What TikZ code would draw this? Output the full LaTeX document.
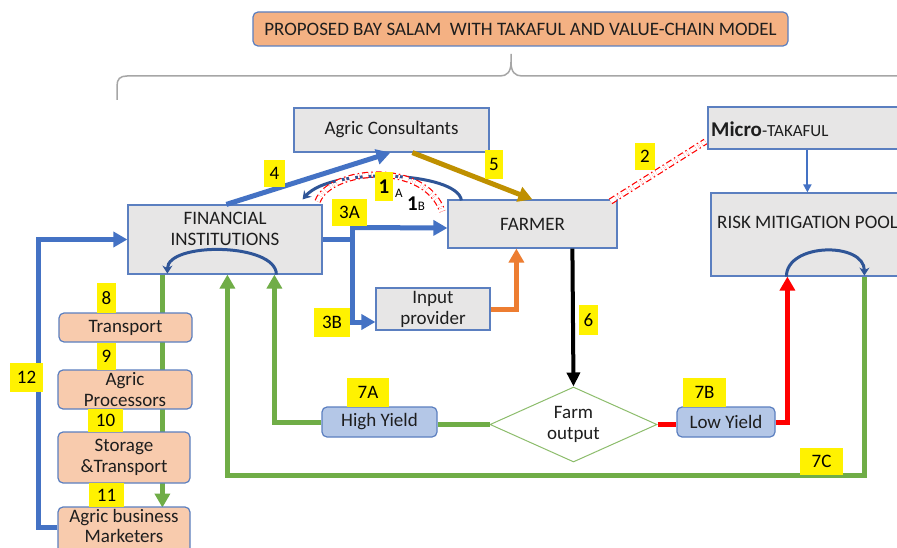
\documentclass[tikz,border=0pt]{standalone}
\usepackage{fontspec}
\setmainfont{Carlito}
\usetikzlibrary{arrows.meta,shapes.geometric,calc}
\definecolor{boxgray}{HTML}{E7E6E6}
\definecolor{boxline}{HTML}{5B7FC0}
\definecolor{peach}{HTML}{F8CBAD}
\definecolor{titlefill}{HTML}{F4B183}
\definecolor{cblue}{HTML}{4472C4}
\definecolor{dblue}{HTML}{2F5597}
\definecolor{cgreen}{HTML}{70AD47}
\definecolor{cgold}{HTML}{BF9000}
\definecolor{corange}{HTML}{ED7D31}
\definecolor{lblue}{HTML}{B4C7E7}
\definecolor{txt}{HTML}{1E1E1E}
\definecolor{bracec}{HTML}{A6A6A6}
\tikzset{
  fnt/.style={font=\fontsize{19}{21}\selectfont, text=txt},
  graybox/.style={fnt, draw=boxline, line width=1.2pt, fill=boxgray, inner sep=0pt, align=center},
  peachbox/.style={fnt, draw=boxline, line width=1.2pt, fill=peach, rounded corners=5pt, inner sep=0pt, align=center},
  yieldbox/.style={fnt, draw=boxline, line width=1.2pt, fill=lblue, rounded corners=5pt, inner sep=0pt, align=center},
  ylab/.style={fnt, fill=yellow, inner sep=0pt, text=black},
  tri/.style={-{Triangle[width=15pt,length=14pt]}},
  bl/.style={draw=cblue, line width=5pt},
  gr/.style={draw=cgreen, line width=5pt},
  rd/.style={draw=red, line width=5pt},
  reddd/.style={draw=red, line width=1.2pt, dash pattern=on 6pt off 3pt on 1.5pt off 3pt, double=white, double distance=4pt},
}
\begin{document}
\begin{tikzpicture}[x=1pt,y=-1pt]
\path[use as bounding box, clip] (0,0) rectangle (897,548);
\fill[white] (0,0) rectangle (897,548);

% title and brace
\node[fnt, draw=boxline, line width=1.2pt, fill=titlefill, rounded corners=5pt, minimum width=535pt, minimum height=34pt, inner sep=0pt] (title) at (520.5,29) {PROPOSED BAY SALAM\ \ WITH TAKAFUL AND VALUE-CHAIN MODEL};
\draw[bracec, line width=1.5pt] (117,100) -- (117,86) .. controls (117,79) and (120,76) .. (127,76) -- (500,76) .. controls (507,76) and (511,72) .. (511,62) -- (511,54);
\draw[bracec, line width=1.5pt] (511,62) .. controls (511,72) and (515,76) .. (522,76) -- (900,76);

% boxes
\node[graybox, minimum width=195pt, minimum height=44pt] (ac) at (391.5,130) {Agric Consultants};
\node[graybox, minimum width=194pt, minimum height=69pt] (fi) at (225,239.5) {};
\node[fnt, align=center] at (225,229) {FINANCIAL\\INSTITUTIONS};
\node[graybox, minimum width=169pt, minimum height=48pt] (farmer) at (532.5,224) {FARMER};
\node[graybox, minimum width=200pt, minimum height=42pt] (mt) at (808,128) {};
\node[fnt, anchor=west, inner sep=0pt] at (711,129) {{\fontsize{21}{22}\selectfont\bfseries Micro}\fontsize{17}{20}\selectfont-TAKAFUL};
\node[graybox, minimum width=200pt, minimum height=83pt] (rmp) at (811,234.5) {};
\node[fnt, anchor=west, inner sep=0pt] at (717,222) {RISK MITIGATION POOL};
\node[graybox, minimum width=114pt, minimum height=42pt] (ip) at (433,309) {Input\\provider};
\node[fnt, draw=cgreen!80, line width=1pt, shape=diamond, aspect=2.23, minimum width=167pt, minimum height=75pt, inner sep=0pt, align=center] (fo) at (573.5,424.5) {Farm\\output};
\node[yieldbox, minimum width=115pt, minimum height=30pt] (hy) at (379.5,422) {High Yield};
\node[yieldbox, minimum width=98pt, minimum height=30pt] (ly) at (726,422) {Low Yield};

% green line through value chain (behind boxes)
\draw[gr, tri] ($(fi.south west)+(35,0)$) -- ($(fi.south west)+(35,233)$);

\node[peachbox, minimum width=133pt, minimum height=29pt] (tr) at (125.5,327.5) {Transport};
\node[peachbox, minimum width=134pt, minimum height=39pt] (pr) at (125,389.5) {Agric\\Processors};
\node[peachbox, minimum width=132pt, minimum height=51pt] (st) at (124,457.5) {Storage\\\&Transport};
\node[peachbox, minimum width=132pt, minimum height=47pt] (mk) at (124,530.5) {};
\node[fnt, align=center, font=\fontsize{19}{20}\selectfont] at (124,525.5) {Agric business\\Marketers};

% connectors
\draw[bl, tri] ($(fi.north west)+(99,0)$) -- ($(ac.south west)+(97,0)$);
\draw[draw=cgold, line width=5pt, tri] ($(ac.south west)+(119,0)$) -- ($(farmer.north west)+(85,0)$);
\draw[draw=dblue, line width=3pt, -{Stealth[width=10pt,length=8pt]}] ($(farmer.north west)+(14,1)$) .. controls (458,172) and (332,166) .. ($(fi.north east)+(-20,-5)$);
\draw[reddd] ($(fi.north east)+(-5,-3)$) .. controls (330,168) and (425,160) .. ($(farmer.north west)+(-5,12)$);
\draw[reddd] ($(farmer.north east)+(-7,2)$) -- ($(mt.south west)+(-2,-8)$);

\draw[bl] (fi.east) -- ++(30,0);
\draw[bl, tri] ($(fi.east)+(30,-12)$) -- ($(farmer.west)+(0,4)$);
\draw[bl, tri] ($(fi.east)+(30,-14)$) |- ($(ip.west)+(0,13)$);
\draw[draw=corange, line width=5pt, tri] (ip.east) -| ($(farmer.south west)+(69,0)$);
\draw[draw=black, line width=4pt, -{Triangle[width=13pt,length=14pt]}] ($(farmer.south west)+(125,0)$) -- (fo.north);
\draw[draw=cblue, line width=2pt, -{Triangle[width=8pt,length=8pt]}] ($(mt.south west)+(100,0)$) -- ($(rmp.north west)+(97,0)$);

\draw[gr] (fo.west) -- ($(hy.east)+(0,2.5)$);
\draw[gr, tri] (hy.west) -| ($(fi.south west)+(147,0)$);
\draw[rd] (fo.east) -- ($(ly.west)+(0,2.5)$);
\draw[rd, tri] (ly.east) -| ($(rmp.south west)+(77,0)$);
\draw[gr, tri] ($(rmp.south west)+(154,0)$) -- ++(0,199) -| ($(fi.south west)+(100,0)$);
\draw[bl, tri] ($(mk.north west)+(0,21)$) -- ++(-19,0) |- (fi.west);

\draw[draw=dblue, line width=3pt, -{Stealth[width=10pt,length=8pt]}] ($(rmp.south west)+(76,0)$) .. controls +(0,-34) and +(0,-34) .. ($(rmp.south west)+(154,-1)$);
\draw[draw=dblue, line width=3pt, -{Stealth[width=10pt,length=8pt]}] ($(fi.south west)+(149,0)$) .. controls +(0,-32) and +(0,-32) .. ($(fi.south west)+(40,-1)$);

% labels
\node[ylab, minimum width=21pt, minimum height=27pt] (l4) at (274.5,173.5) {4};
\node[ylab, minimum width=18pt, minimum height=29pt] (l5) at (494,164.5) {5};
\node[ylab, minimum width=18pt, minimum height=29pt, font=\fontsize{21}{22}\selectfont\bfseries] (l1a) at (384,186.5) {1};
\node[fnt, inner sep=0pt, font=\fontsize{13}{14}\selectfont, text=black] at (399,193) {A};
\node[fnt, inner sep=0pt, text=black, anchor=base] at (416,211) {{\fontsize{21}{22}\selectfont\bfseries 1}\fontsize{13}{14}\selectfont B};
\node[ylab, minimum width=35pt, minimum height=27pt] (l3a) at (349.5,212.5) {3A};
\node[ylab, minimum width=20pt, minimum height=27pt] (l2) at (645,156.5) {2};
\node[ylab, minimum width=36pt, minimum height=29pt] (l3b) at (332,322.5) {3B};
\node[ylab, minimum width=19pt, minimum height=30pt] (l6) at (588.5,320) {6};
\node[ylab, minimum width=42pt, minimum height=29pt] (l7a) at (368,392.5) {7A};
\node[ylab, minimum width=43pt, minimum height=29pt] (l7b) at (704.5,392.5) {7B};
\node[ylab, minimum width=43pt, minimum height=27pt] (l7c) at (821.5,461.5) {7C};
\node[ylab, minimum width=19pt, minimum height=30pt] (l8) at (106.5,298) {8};
\node[ylab, minimum width=19pt, minimum height=27pt] (l9) at (106.5,356.5) {9};
\node[ylab, minimum width=35pt, minimum height=23pt] (l10) at (105.5,420.5) {10};
\node[ylab, minimum width=35pt, minimum height=24pt] (l11) at (106.5,495) {11};
\node[ylab, minimum width=33pt, minimum height=29pt] (l12) at (26.5,377.5) {12};
\end{tikzpicture}
\end{document}
